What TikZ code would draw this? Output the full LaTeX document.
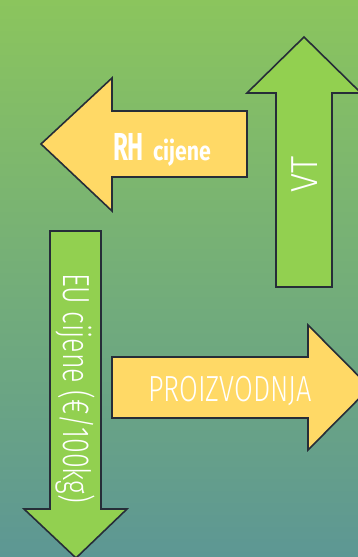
\documentclass[tikz,border=0pt]{standalone}
\usepackage{fontspec}
\setmainfont{Fira Sans}
\newfontfamily\thinf{Fira Sans Light}
\newfontfamily\boldf{Fira Sans Bold}
\definecolor{bgtop}{HTML}{8BC55D}
\definecolor{bgbot}{HTML}{5D9794}
\definecolor{arrgreen}{HTML}{92D050}
\definecolor{arryellow}{HTML}{FFD966}
\definecolor{edge}{HTML}{262D38}
\tikzset{
  arrowshape/.style={draw=edge, line width=1.6pt, line join=miter},
  lbl/.style={text=white, inner sep=0pt, outer sep=0pt, anchor=base west},
}
\begin{document}
\begin{tikzpicture}[x=1pt,y=-1pt]
\useasboundingbox (0,0) rectangle (358,557);
\shade[top color=bgtop, bottom color=bgbot] (0,0) rectangle (358,557);
\begin{scope}
\clip (0,0) rectangle (358,557);
% VT arrow (up)
\draw[arrowshape, fill=arrgreen] (276,287) -- (276,93) -- (247,93) -- (304,37) -- (361,93) -- (332,93) -- (332,287) -- cycle;
% RH cijene arrow (left)
\draw[arrowshape, fill=arryellow] (247,111) -- (112,111) -- (112,78) -- (41,144) -- (112,211) -- (112,177) -- (247,177) -- cycle;
% EU cijene arrow (down)
\draw[arrowshape, fill=arrgreen] (50,231) -- (101,231) -- (101,509) -- (127,509) -- (76,558) -- (24,509) -- (50,509) -- cycle;
% PROIZVODNJA arrow (right)
\draw[arrowshape, fill=arryellow] (112,357) -- (308,357) -- (308,325) -- (370,387.5) -- (308,450) -- (308,418) -- (112,418) -- cycle;
\end{scope}
\node[lbl] (rh) at (113,160) {\resizebox{31pt}{\height}{\fontsize{39}{42}\boldf RH}\hspace{9pt}\resizebox{58pt}{\height}{\fontsize{26.5}{30}\boldf cijene}};
\node[lbl, rotate=90] (vt) at (317,192) {\resizebox{36pt}{\height}{\fontsize{37.7}{40}\thinf VT}};
\node[lbl, rotate=-90] (eu) at (63,273) {\resizebox{230pt}{\height}{\fontsize{37.7}{40}\thinf EU cijene (€/100kg)}};
\node[lbl] (proiz) at (148,401) {\resizebox{164pt}{\height}{\fontsize{36.3}{40}\thinf PROIZVODNJA}};
\end{tikzpicture}
\end{document}
